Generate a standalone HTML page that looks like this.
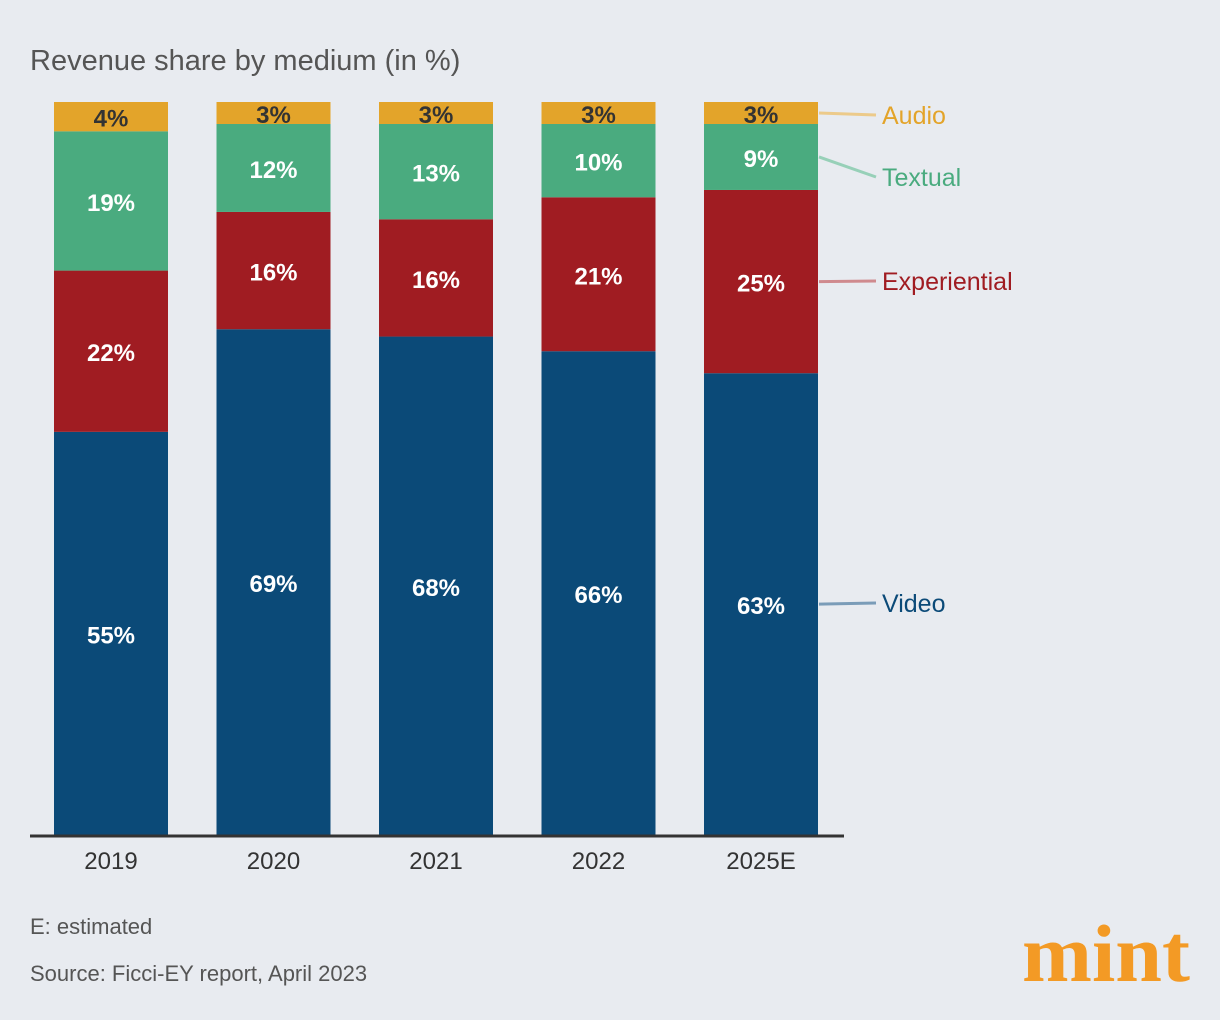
<!DOCTYPE html>
<html><head><meta charset="utf-8"><style>
body{margin:0;background:#e8ebf0;}
svg{display:block;font-family:"Liberation Sans",sans-serif;}
</style></head><body>
<svg id="chart" width="1220" height="1020">
<rect width="1220" height="1020" fill="#e8ebf0"/>
<text x="30" y="70" font-size="29" fill="#555">Revenue share by medium (in %)</text>
<g id="bars"></g>
<line x1="30" y1="836" x2="844" y2="836" stroke="#333" stroke-width="3"/>
<g id="legend"></g>
<text x="30" y="934" font-size="22" fill="#555">E: estimated</text>
<text x="30" y="981" font-size="22" fill="#555">Source: Ficci-EY report, April 2023</text>
<text x="1022" y="981" font-size="82" font-weight="bold" font-family="Liberation Serif,serif" fill="#f39a25" textLength="168" lengthAdjust="spacingAndGlyphs">mint</text>
</svg>
<script>
const categories=["2019","2020","2021","2022","2025E"];
const video=[55,69,68,66,63];
const experiential=[22,16,16,21,25];
const textual=[19,12,13,10,9];
const audio=[4,3,3,3,3];
const seriesNames=["Video","Experiential","Textual","Audio"];
const NS="http://www.w3.org/2000/svg";
const colors=["#0b4a78","#a01c22","#4aab7f","#e3a42a"];
const legendLine=["#7a9cb8","#cf8a8e","#97d0b8","#ecca8a"];
const series=[video,experiential,textual,audio];
const baseY=835,topY=102,x0=54,step=162.5,bw=114;
const yS=v=>baseY-(v/100)*(baseY-topY);
const xS=i=>x0+i*step;
const g=document.getElementById('bars');
function mk(tag,attrs,parent){const e=document.createElementNS(NS,tag);for(const k in attrs)e.setAttribute(k,attrs[k]);parent.appendChild(e);return e;}
const lastMid=[];
categories.forEach((c,i)=>{
  let cum=0;
  series.forEach((s,j)=>{
    const v=s[i];
    const y1=yS(cum+v),y0=yS(cum);
    const r=mk('rect',{x:xS(i),y:y1,width:bw,height:y0-y1,fill:colors[j]},g);
    
    
    const t=mk('text',{x:xS(i)+bw/2,y:(y0+y1)/2+10,'font-size':24,'font-weight':'bold','text-anchor':'middle',fill:j==3?'#333':'#fff'},g);
    t.textContent=v+'%';
    
    
    if(i==categories.length-1)lastMid[j]=(y0+y1)/2;
    cum+=v;
  });
  const l=mk('text',{x:xS(i)+bw/2,y:869,'font-size':24,'text-anchor':'middle',fill:'#333'},g);
  l.textContent=c;
  
  
});
const lg=document.getElementById('legend');
const labelY=[603,281,177,115];
series.forEach((s,j)=>{
  const ln=mk('line',{x1:819,y1:lastMid[j],x2:876,y2:labelY[j],stroke:legendLine[j],'stroke-width':3},lg);
  
  
  const t=mk('text',{x:882,y:labelY[j]+9,'font-size':25,fill:colors[j]},lg);
  t.textContent=seriesNames[j];
  
  
});
</script>
</body></html>
